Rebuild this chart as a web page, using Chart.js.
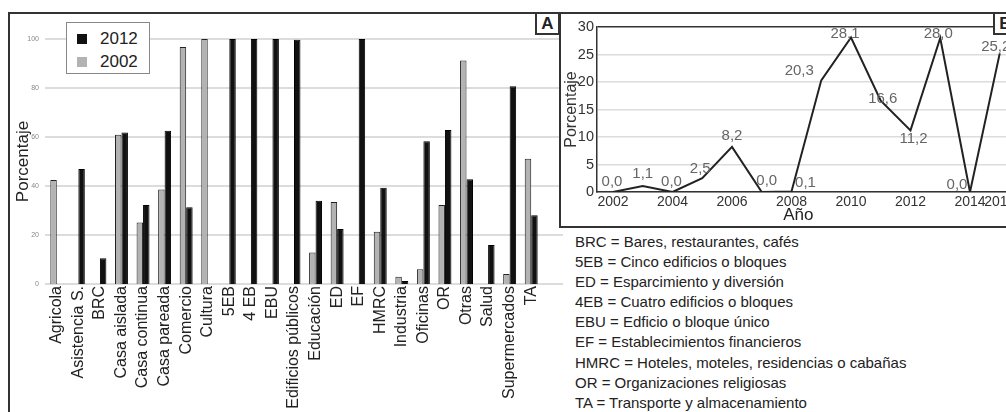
<!DOCTYPE html>
<html lang="es">
<head>
<meta charset="utf-8">
<title>Porcentaje por uso del suelo</title>
<script src="https://cdn.jsdelivr.net/npm/chart.js@4.4.1/dist/chart.umd.min.js"></script>
<style>
  html, body { margin: 0; padding: 0; background: #fff; }
  body { width: 1006px; height: 412px; overflow: hidden; position: relative;
         font-family: "Liberation Sans", Arial, sans-serif; color: #222; }
  .frame { position: absolute; left: 8px; top: 12px; width: 1100px; height: 420px;
           border-left: 2px solid #333; border-top: 2px solid #333; box-sizing: border-box; }
  #barWrap { position: absolute; left: 0; top: 0; width: 565px; height: 412px; }
  .legend { position: absolute; left: 66px; top: 22px; width: 84px; height: 52px;
            border: 1px solid #888; background: #fff; box-sizing: border-box; }
  .legend .row { position: absolute; left: 10px; height: 20px; font-size: 17px; line-height: 20px; }
  .legend .sw { position: absolute; left: 0; top: 5px; width: 10px; height: 10px; }
  .legend .tx { position: absolute; left: 23px; top: 0; }
  .tag { position: absolute; top: 12px; width: 25px; height: 23px; border: 2px solid #333;
         box-sizing: border-box; background: #fff; font-weight: bold; font-size: 17px;
         line-height: 20px; text-align: center; }
  #panelB { position: absolute; left: 559px; top: 12px; width: 500px; height: 216px;
            border: 2px solid #333; box-sizing: border-box; background: #fff; }
  #lineWrap { position: absolute; left: 0; top: 0; width: 480px; height: 212px; }
  .defs { position: absolute; left: 575px; top: 232px; font-size: 15px; line-height: 20.1px; color: #222; white-space: nowrap; }
</style>
</head>
<body>
<div class="frame"></div>
<div id="barWrap"><canvas id="barChart"></canvas></div>
<div class="legend" id="legend"></div>
<div class="tag" style="left:535px;">A</div>
<div id="panelB"><div id="lineWrap"><canvas id="lineChart"></canvas></div></div>
<div class="tag" style="left:993px;">B</div>
<div class="defs" id="defs"></div>

<script>
// ---- Panel A: share of each land use, 2002 vs 2012 ----
const categories = ['Agricola', 'Asistencia S.', 'BRC', 'Casa aislada', 'Casa continua',
  'Casa pareada', 'Comercio', 'Cultura', '5EB', '4 EB', 'EBU', 'Edificios públicos',
  'Educación', 'ED', 'EF', 'HMRC', 'Industria', 'Oficinas', 'OR', 'Otras', 'Salud',
  'Supermercados', 'TA'];
const pct2002 = [42.4, null, null, 60.9, 25.1, 38.6, 96.7, 100, null, null, null, null,
  12.9, 33.5, null, 21.3, 3.0, 6.0, 32.2, 91.2, null, 4.1, 51.1];
const pct2012 = [null, 46.9, 10.5, 61.8, 32.2, 62.6, 31.3, null, 100, 100, 100, 99.7,
  34.0, 22.4, 100, 39.3, 1.2, 58.3, 62.9, 42.8, 15.9, 80.7, 28.1];
const barTicks = [0, 20, 40, 60, 80, 100];

// ---- Panel B: yearly percentage ----
const years = [2002, 2003, 2004, 2005, 2006, 2007, 2008, 2009, 2010, 2011, 2012, 2013, 2014, 2015];
const yearPct = [0.0, 1.1, 0.0, 2.5, 8.2, 0.0, 0.1, 20.3, 28.1, 16.6, 11.2, 28.0, 0.0, 25.2];
const yearTicks = [2002, 2004, 2006, 2008, 2010, 2012, 2014, 2015];
const lineTicks = [0, 5, 10, 15, 20, 25, 30];

// ---- Abbreviations ----
const abbreviations = [
  'BRC = Bares, restaurantes, cafés',
  '5EB = Cinco edificios o bloques',
  'ED = Esparcimiento y diversión',
  '4EB = Cuatro edificios o bloques',
  'EBU = Edficio o bloque único',
  'EF = Establecimientos financieros',
  'HMRC = Hoteles, moteles, residencias o cabañas',
  'OR = Organizaciones religiosas',
  'TA = Transporte y almacenamiento'
];

const FONT = '"Liberation Sans", Arial, sans-serif';
const GRAY = '#b3b3b3';
const BLACK = '#111111';

// label nudges (px) for the value labels of panel B, one per point
const labelNudge = [[-1,-10],[0,-12],[-1,-10],[-2,-9],[0,-11],[5,-11],[14,-9],
  [-22,-9],[-6,-4],[2,-2],[3,8],[-2,-4],[-13,-7],[-4,-7]];

// horizontal guide lines behind the bars, running a little past the plot
const barGridPlugin = {
  id: 'barGrid',
  beforeDatasetsDraw(chart) {
    const y = chart.scales.y, ctx = chart.ctx;
    ctx.save();
    ctx.strokeStyle = '#dcdcdc';
    ctx.lineWidth = 2;
    barTicks.forEach(v => {
      const py = Math.round(y.getPixelForValue(v));
      ctx.beginPath();
      ctx.moveTo(45, py);
      ctx.lineTo(563, py);
      ctx.stroke();
    });
    ctx.restore();
  }
};

new Chart(document.getElementById('barChart'), {
  type: 'bar',
  data: {
    labels: categories,
    datasets: [
      { label: '2002', data: pct2002, backgroundColor: GRAY, borderColor: '#222', borderWidth: 1 },
      { label: '2012', data: pct2012, backgroundColor: BLACK, borderColor: '#000', borderWidth: 1 }
    ]
  },
  options: {
    responsive: true,
    maintainAspectRatio: false,
    animation: false,
    events: [],
    layout: { padding: { top: 39, right: 23, bottom: 0, left: 0 } },
    datasets: { bar: { categoryPercentage: 0.6, barPercentage: 1.0 } },
    plugins: { legend: { display: false }, tooltip: { enabled: false } },
    scales: {
      x: {
        grid: { display: false, drawTicks: false },
        border: { display: false },
        ticks: { autoSkip: false, minRotation: 90, maxRotation: 90, padding: 2,
                 color: '#222', font: { family: FONT, size: 16 } },
        afterFit(scale) { scale.height = 128; }
      },
      y: {
        min: 0, max: 100,
        afterBuildTicks(scale) { scale.ticks = barTicks.map(v => ({ value: v })); },
        grid: { display: false, drawTicks: false },
        border: { display: false },
        ticks: { padding: 7, color: '#888', font: { family: FONT, size: 7 } },
        title: { display: true, text: 'Porcentaje', color: '#222',
                 font: { family: FONT, size: 17 }, padding: { top: 13, bottom: 0 } },
        afterFit(scale) { scale.width = 46; }
      }
    }
  },
  plugins: [barGridPlugin]
});

// legend box (2012 listed first)
(function () {
  const lg = document.getElementById('legend');
  const rows = [['2012', BLACK], ['2002', GRAY]];
  rows.forEach((r, i) => {
    const d = document.createElement('div');
    d.className = 'row';
    d.style.top = (6 + i * 23) + 'px';
    d.innerHTML = '<span class="sw" style="background:' + r[1] + '"></span><span class="tx">' + r[0] + '</span>';
    lg.appendChild(d);
  });
  const defs = document.getElementById('defs');
  defs.innerHTML = abbreviations.map(t => '<div>' + t + '</div>').join('');
})();

// value labels next to each point, and the centred axis name
const valueLabelPlugin = {
  id: 'valueLabels',
  afterDatasetsDraw(chart) {
    const ctx = chart.ctx;
    const meta = chart.getDatasetMeta(0);
    ctx.save();
    ctx.font = '15px ' + FONT;
    ctx.fillStyle = '#666';
    ctx.textAlign = 'center';
    ctx.textBaseline = 'middle';
    meta.data.forEach((pt, i) => {
      const txt = yearPct[i].toFixed(1).replace('.', ',');
      const n = labelNudge[i] || [0, -10];
      ctx.fillText(txt, pt.x + n[0], pt.y + n[1]);
    });
    // axis name centred under the span of years
    const xs = chart.scales.x;
    const cx = (chart.chartArea.left + xs.getPixelForValue(years[years.length - 1])) / 2;
    ctx.font = '17px ' + FONT;
    ctx.fillStyle = '#222';
    ctx.fillText('Año', cx, chart.height - 11);
    ctx.restore();
  }
};

new Chart(document.getElementById('lineChart'), {
  type: 'line',
  data: {
    datasets: [{
      label: 'Porcentaje',
      data: years.map((y, i) => ({ x: y, y: yearPct[i] })),
      borderColor: '#222',
      borderWidth: 2,
      pointRadius: 0,
      tension: 0,
      fill: false
    }]
  },
  options: {
    responsive: true,
    maintainAspectRatio: false,
    animation: false,
    events: [],
    layout: { padding: { top: 13, right: 0, bottom: 0, left: 0 } },
    plugins: { legend: { display: false }, tooltip: { enabled: false } },
    scales: {
      x: {
        type: 'linear',
        min: 2001.462, max: 2016.387,
        afterBuildTicks(scale) { scale.ticks = yearTicks.map(v => ({ value: v })); },
        grid: { display: false, drawTicks: false },
        border: { display: true, color: '#333', width: 1.5 },
        ticks: { autoSkip: false, maxRotation: 0, padding: 2, color: '#333',
                 font: { family: FONT, size: 14 }, callback: v => String(v) },
        afterFit(scale) { scale.height = 34; }
      },
      y: {
        min: 0, max: 30,
        afterBuildTicks(scale) { scale.ticks = lineTicks.map(v => ({ value: v })); },
        grid: {
          drawTicks: false,
          color: ctx => (ctx.tick && ctx.tick.value === 30 ? '#333' : '#dcdcdc'),
          lineWidth: 1.5
        },
        border: { display: true, color: '#333', width: 1.5 },
        ticks: { padding: 3, color: '#333', font: { family: FONT, size: 14.5 } },
        title: { display: true, text: 'Porcentaje', color: '#333',
                 font: { family: FONT, size: 16 }, padding: { top: 1, bottom: 0 } },
        afterFit(scale) { scale.width = 36; }
      }
    }
  },
  plugins: [valueLabelPlugin]
});
</script>
</body>
</html>
